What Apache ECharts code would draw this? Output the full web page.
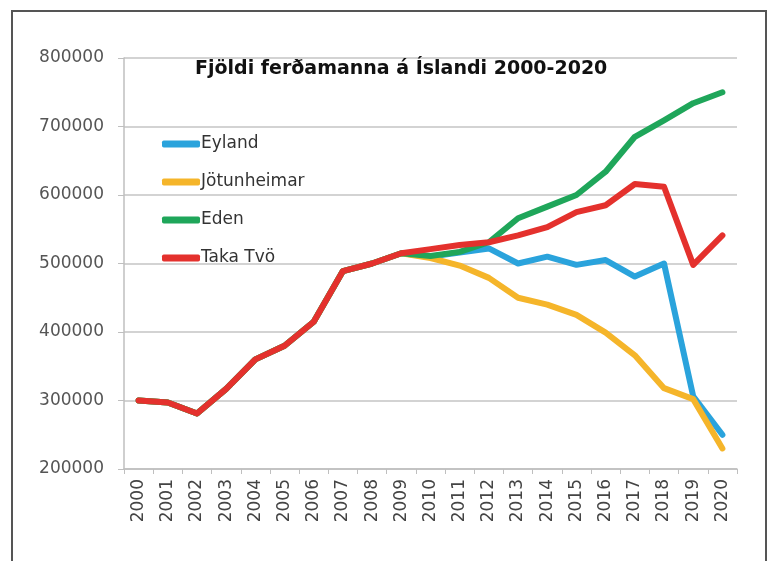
<!DOCTYPE html>
<html>
<head>
<meta charset="utf-8">
<script src="https://cdn.jsdelivr.net/npm/echarts@6/dist/echarts.min.js"></script>
<style>
  html, body { margin: 0; padding: 0; background: #fff; }
  #chart { width: 768px; height: 561px; }
</style>
</head>
<body>
<div id="chart"></div>
<script>
// ár
const years = ['2000', '2001', '2002', '2003', '2004', '2005', '2006', '2007', '2008', '2009', '2010',
  '2011', '2012', '2013', '2014', '2015', '2016', '2017', '2018', '2019', '2020'];

// fjöldi ferðamanna, lesið af myndinni
const eyland = [300000, 297000, 281000, 317000, 360000, 380000, 415000, 489000, 500000, 515000, 510000,
  516000, 522000, 500000, 510000, 498000, 505000, 481000, 500000, 306000, 250000];
const jotunheimar = [300000, 297000, 281000, 317000, 360000, 380000, 415000, 489000, 500000, 515000, 508000,
  497000, 479000, 450000, 440000, 425000, 399000, 366000, 318000, 302000, 230000];
const eden = [300000, 297000, 281000, 317000, 360000, 380000, 415000, 489000, 500000, 515000, 511000,
  517000, 531000, 566000, 583000, 600000, 634000, 685000, 709000, 734000, 750000];
const takaTvo = [300000, 297000, 281000, 317000, 360000, 380000, 415000, 489000, 500000, 515000, 521000,
  527000, 531000, 541000, 553000, 575000, 585000, 616000, 612000, 498000, 541000];

const chart = echarts.init(document.getElementById('chart'));

const lineSeries = (name, data, color) => ({
  name: name,
  type: 'line',
  data: data,
  showSymbol: false,
  symbol: 'none',
  lineStyle: { color: color, width: 6, cap: 'round', join: 'round' },
  itemStyle: { color: color }
});

chart.setOption({
  backgroundColor: '#fff',
  animation: false,
  title: {
    text: 'Fjöldi ferðamanna á Íslandi 2000-2020',
    left: 190,
    top: 55,
    textStyle: { fontFamily: 'DejaVu Sans', fontSize: 19, fontWeight: 'bold', color: '#111' }
  },
  legend: {
    orient: 'vertical',
    left: 157,
    top: 129,
    icon: 'roundRect',
    itemWidth: 38,
    itemHeight: 7,
    itemGap: 18,
    textStyle: { fontFamily: 'DejaVu Sans', fontSize: 17, color: '#333', lineHeight: 20, padding: [0, 0, 0, -4] },
    data: ['Eyland', 'Jötunheimar', 'Eden', 'Taka Tvö']
  },
  grid: { left: 124, right: 31, top: 58, bottom: 92 },
  xAxis: {
    type: 'category',
    data: years,
    boundaryGap: true,
    axisLine: { lineStyle: { color: '#bfbfbf', width: 1.5 } },
    axisTick: { show: true, length: 5, lineStyle: { color: '#bfbfbf' } },
    axisLabel: {
      interval: 0,
      rotate: 90,
      margin: 10,
      fontFamily: 'DejaVu Sans',
      fontSize: 17,
      color: '#444'
    }
  },
  yAxis: {
    type: 'value',
    min: 200000,
    max: 800000,
    interval: 100000,
    axisLine: { show: true, lineStyle: { color: '#bfbfbf', width: 1.5 } },
    axisTick: { show: true, length: 6, lineStyle: { color: '#bfbfbf' } },
    axisLabel: {
      margin: 20,
      fontFamily: 'DejaVu Sans',
      fontSize: 17,
      color: '#555',
      formatter: (v) => String(v)
    },
    splitLine: { lineStyle: { color: '#c4c4c4', width: 1.5 } }
  },
  graphic: [
    {
      type: 'rect',
      shape: { x: 12, y: 11, width: 754, height: 620 },
      style: { fill: 'none', stroke: '#555', lineWidth: 2 },
      silent: true
    }
  ],
  series: [
    lineSeries('Eyland', eyland, '#2aa3dc'),
    lineSeries('Jötunheimar', jotunheimar, '#f5b52a'),
    lineSeries('Eden', eden, '#1fa65a'),
    lineSeries('Taka Tvö', takaTvo, '#e4312d')
  ]
});
</script>
</body>
</html>
